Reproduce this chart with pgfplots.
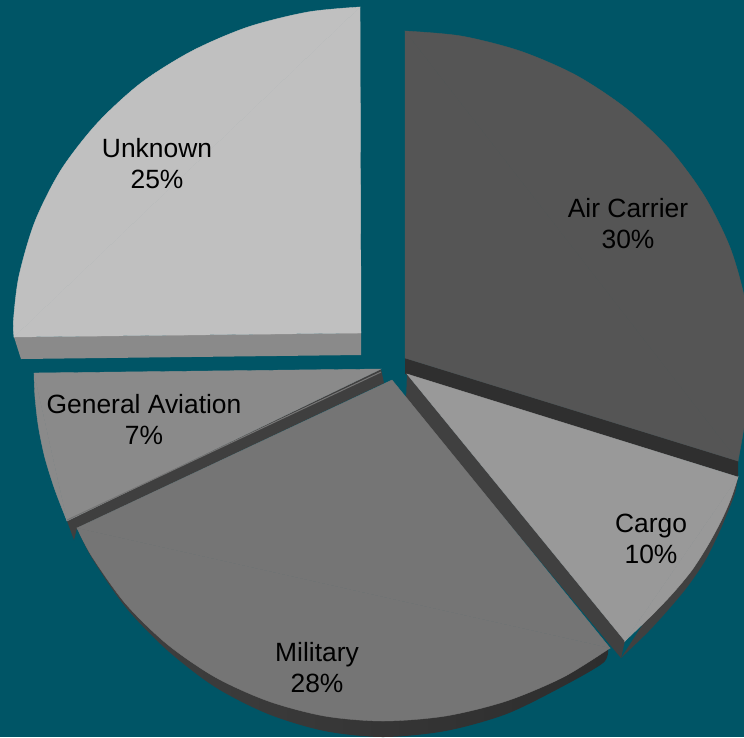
\documentclass[border=0pt]{standalone}
\usepackage{pgfplots}
\pgfplotsset{compat=1.18}
\usepackage{fontspec}
\setmainfont{Liberation Sans}
\definecolor{bg}{HTML}{005566}
\definecolor{aircarrier}{HTML}{555555}
\definecolor{airside}{HTML}{2F2F2F}
\definecolor{cargo}{HTML}{999999}
\definecolor{cargoside}{HTML}{404040}
\definecolor{military}{HTML}{757575}
\definecolor{milleft}{HTML}{404040}
\definecolor{milright}{HTML}{2D2D2D}
\definecolor{genav}{HTML}{8A8A8A}
\definecolor{genavside}{HTML}{3F3F3F}
\definecolor{unknown}{HTML}{C0C0C0}
\definecolor{unknownside}{HTML}{8A8A8A}
\begin{document}
\begin{tikzpicture}
\begin{axis}[
    width=744pt, height=737pt, scale only axis,
    xmin=0, xmax=744, ymin=0, ymax=737,
    y dir=reverse,
    hide axis,
    clip=true,
    every axis plot/.append style={mark=none, line width=0.4pt}
]
% background
\addplot[fill=bg, draw=none] coordinates {(0,0) (744,0) (744,737) (0,737)} --cycle;

% Unknown 25%
\addplot[fill=unknownside, draw=none] coordinates {(361,333) (361,355) (21,359) (14,337)} --cycle;
\addplot[fill=unknown, draw=unknown] coordinates {(361,333) (360,7) (14,337)} --cycle;
\addplot[smooth, fill=unknown, draw=unknown] coordinates {
    (360,7) (308,12) (248,27) (192,51) (141,83) (97,123.5) (61,170)
    (35,221.5) (19,276) (13.5,320) (14,337)} --cycle;

% Air Carrier 30%
\addplot[fill=airside, draw=none] coordinates {(405,358) (405,374) (738,477) (738,461)} --cycle;
\addplot[fill=aircarrier, draw=aircarrier] coordinates {(405,358) (405,31) (738,461)} --cycle;
\addplot[smooth, fill=aircarrier, draw=aircarrier] coordinates {
    (405,31) (461,36) (520,51) (575.5,75) (625.5,108) (669,148.5) (704,195.5)
    (730,247.5) (745.5,303) (751,360) (745.5,417) (738,461)} --cycle;

% Cargo 10%
\addplot[fill=cargoside, draw=none] coordinates {(407,374) (406,400) (621,658) (625,641)} --cycle;
\addplot[smooth, fill=cargoside, draw=none] coordinates {
    (738,477) (735,493) (727,514) (718,535) (705,561) (688,586) (669,609) (648,632) (621,658)} --cycle;
\addplot[fill=cargo, draw=cargo] coordinates {(407,374) (738,477) (625,641)} --cycle;
\addplot[smooth, fill=cargo, draw=cargo] coordinates {
    (738,477) (731.5,497) (722,519) (708,545) (692,570) (673,593) (652,615) (625,641)} --cycle;

% General Aviation 7%
\addplot[fill=genavside, draw=none] coordinates {(381,369) (384,383) (77,528) (74,540) (67,521)} --cycle;
\addplot[fill=genav, draw=genav] coordinates {(381,369) (34,373) (67,521)} --cycle;
\addplot[smooth, fill=genav, draw=genav] coordinates {
    (34,373) (35,397) (38.5,427) (45,458) (55,490) (67,521)} --cycle;
\addplot[draw=military, line width=1pt] coordinates {(381,372) (67,520)};

% Military 28%
\addplot[smooth, left color=milleft, middle color=milright, right color=milright, draw=none] coordinates {
    (77,528) (92,558) (125.5,607) (167,650) (215,687) (268,714) (324.5,731) (383,737)
    (445.5,731) (506.5,714) (563.5,686) (603,663) (608,650)} --cycle;
\addplot[fill=military, draw=military] coordinates {(392,380) (77,528) (610,648)} --cycle;
\addplot[smooth, fill=military, draw=military] coordinates {
    (77,528) (92,556.5) (125.5,603.5) (167,644) (215,677) (268,701) (324.5,716) (383,721)
    (445.5,716) (506.5,701) (563.5,677) (610,648)} --cycle;

% labels
\node[align=center, inner sep=0pt, font=\fontsize{26.4}{30.5}\selectfont] at (axis cs:628,223.5) {Air Carrier\\30\%};
\node[align=center, inner sep=0pt, font=\fontsize{26.4}{30.5}\selectfont] at (axis cs:651,539) {Cargo\\10\%};
\node[align=center, inner sep=0pt, font=\fontsize{26.4}{30.5}\selectfont] at (axis cs:317,667.5) {Military\\28\%};
\node[align=center, inner sep=0pt, font=\fontsize{26.4}{30.5}\selectfont] at (axis cs:144,419.5) {General Aviation\\7\%};
\node[align=center, inner sep=0pt, font=\fontsize{26.4}{30.5}\selectfont] at (axis cs:157,163.5) {Unknown\\25\%};
\end{axis}
\end{tikzpicture}
\end{document}
